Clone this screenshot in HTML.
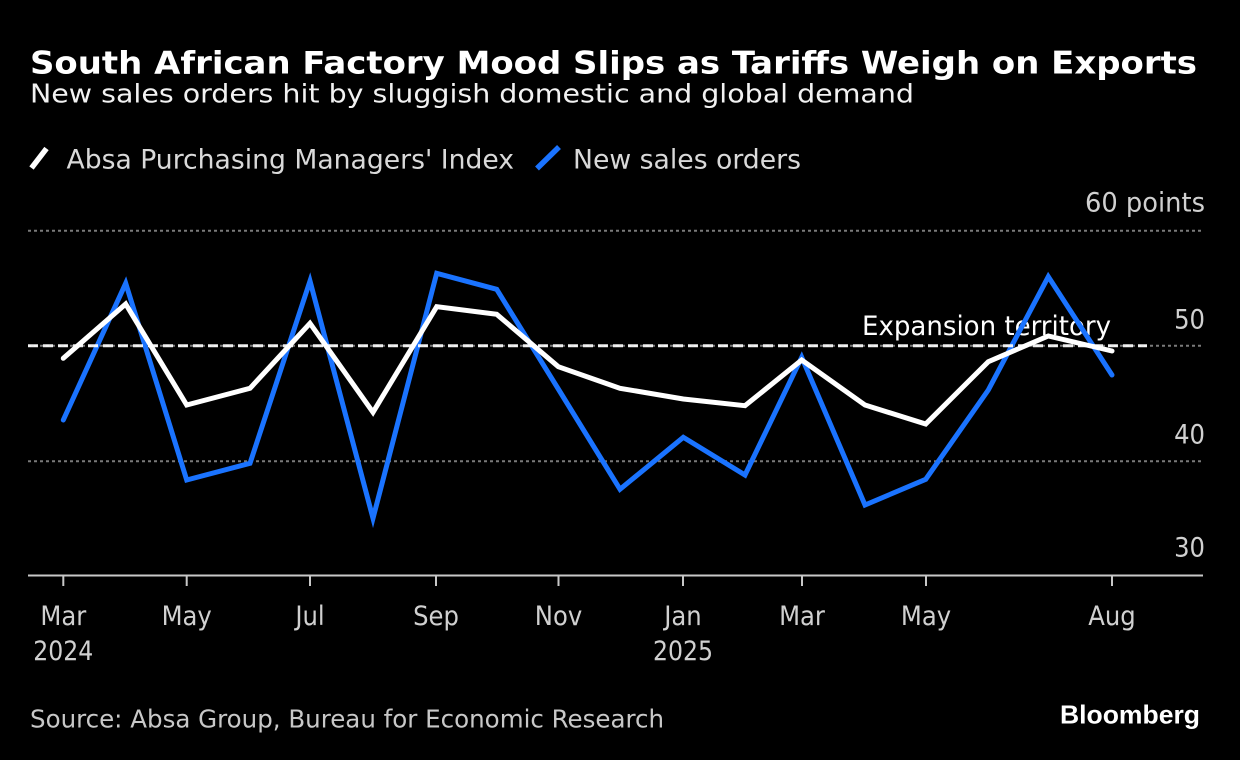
<!DOCTYPE html>
<html>
<head>
<meta charset="utf-8">
<style>
  html, body { margin: 0; padding: 0; background: #000; }
  body { width: 1240px; height: 760px; overflow: hidden; }
  svg { display: block; }
  text { font-family: "DejaVu Sans", "Liberation Sans", sans-serif; font-stretch: condensed; }
  .logo { font-family: "Liberation Sans", "DejaVu Sans", sans-serif; font-stretch: normal; }
</style>
</head>
<body>
<svg width="1240" height="760" viewBox="0 0 1240 760" xmlns="http://www.w3.org/2000/svg">
  <rect x="0" y="0" width="1240" height="760" fill="#000"/>

  <!-- Title & subtitle -->
  <text x="30" y="73.5" font-size="31" font-weight="bold" fill="#ffffff" textLength="1167" lengthAdjust="spacingAndGlyphs">South African Factory Mood Slips as Tariffs Weigh on Exports</text>
  <text x="30" y="102.3" font-size="26" fill="#f2f2f2" textLength="884" lengthAdjust="spacingAndGlyphs">New sales orders hit by sluggish domestic and global demand</text>

  <!-- Legend -->
  <line x1="31.5" y1="168" x2="46.5" y2="148.5" stroke="#ffffff" stroke-width="5.5" stroke-linecap="butt"/>
  <text x="66.5" y="168.3" font-size="27" fill="#d9d9d9" textLength="447.5" lengthAdjust="spacingAndGlyphs">Absa Purchasing Managers' Index</text>
  <line x1="537" y1="168.5" x2="559" y2="147" stroke="#1a73ff" stroke-width="5.5" stroke-linecap="butt"/>
  <text x="573" y="168.3" font-size="27" fill="#d9d9d9" textLength="228" lengthAdjust="spacingAndGlyphs">New sales orders</text>

  <!-- Gridlines (dotted) -->
  <g stroke="#7a7a7a" stroke-width="2" stroke-dasharray="3 3">
    <line x1="28" y1="230.7" x2="1203" y2="230.7"/>
    <line x1="28" y1="345.7" x2="1203" y2="345.7"/>
    <line x1="28" y1="461.2" x2="1203" y2="461.2"/>
  </g>

  <!-- Y labels -->
  <g font-size="27" fill="#d0d0d0" text-anchor="end">
    <text x="1205" y="211.7" textLength="120" lengthAdjust="spacingAndGlyphs">60 points</text>
    <text x="1205" y="328.3">50</text>
    <text x="1205" y="443.3">40</text>
    <text x="1205" y="556.7">30</text>
  </g>

  <!-- Expansion territory annotation -->
  <text x="862" y="335" font-size="27" fill="#ffffff" textLength="249" lengthAdjust="spacingAndGlyphs">Expansion territory</text>

  <!-- Series: New sales orders (blue) -->
  <polyline fill="none" stroke="#1a73ff" stroke-width="5" stroke-linejoin="miter" stroke-miterlimit="6" stroke-linecap="round"
    points="63.3,420 125.7,283.3 186.7,480 250,463.3 310,281 373,518.3 436.7,273.3 496.7,289.3 558.3,389 620,489.3 683.3,437.3 745,475 801.7,357.3 865,505 925.7,479.3 988.3,390 1048.3,276.7 1112,375"/>

  <!-- Series: PMI (white) -->
  <polyline fill="none" stroke="#ffffff" stroke-width="5" stroke-linejoin="miter" stroke-miterlimit="6" stroke-linecap="round"
    points="63.3,358.3 125.7,304 186.7,405 250,388.3 310,323.3 373,412.3 436.7,306.7 496.7,314.3 558.3,366.7 620,388.3 683.3,399 745,405.7 801.7,360 865,405 925.7,424 988.3,361.7 1048.3,336 1112,351"/>

  <!-- 50 threshold dashed line -->
  <line x1="28" y1="345.7" x2="1147" y2="345.7" stroke="#ffffff" stroke-opacity="0.92" stroke-width="3" stroke-dasharray="10 5"/>

  <!-- X axis -->
  <line x1="28" y1="575.5" x2="1203" y2="575.5" stroke="#c8c8c8" stroke-width="2"/>
  <g stroke="#c8c8c8" stroke-width="2">
    <line x1="63.3" y1="575.5" x2="63.3" y2="586"/>
    <line x1="186.7" y1="575.5" x2="186.7" y2="586"/>
    <line x1="310" y1="575.5" x2="310" y2="586"/>
    <line x1="436" y1="575.5" x2="436" y2="586"/>
    <line x1="558.5" y1="575.5" x2="558.5" y2="586"/>
    <line x1="683" y1="575.5" x2="683" y2="586"/>
    <line x1="802" y1="575.5" x2="802" y2="586"/>
    <line x1="926" y1="575.5" x2="926" y2="586"/>
    <line x1="1112" y1="575.5" x2="1112" y2="586"/>
  </g>

  <!-- X labels -->
  <g font-size="27" fill="#d0d0d0" text-anchor="middle">
    <text x="63.3" y="625">Mar</text>
    <text x="63.3" y="660" textLength="60" lengthAdjust="spacingAndGlyphs">2024</text>
    <text x="186.7" y="625">May</text>
    <text x="310" y="625">Jul</text>
    <text x="436" y="625">Sep</text>
    <text x="558.5" y="625">Nov</text>
    <text x="683" y="625">Jan</text>
    <text x="683" y="660" textLength="60" lengthAdjust="spacingAndGlyphs">2025</text>
    <text x="802" y="625">Mar</text>
    <text x="926" y="625">May</text>
    <text x="1112" y="625">Aug</text>
  </g>

  <!-- Footer -->
  <text x="30" y="727.3" font-size="25" fill="#c8c8c8" textLength="634" lengthAdjust="spacingAndGlyphs">Source: Absa Group, Bureau for Economic Research</text>
  <text class="logo" x="1060" y="723.3" font-size="26" font-weight="bold" fill="#ffffff" textLength="140" lengthAdjust="spacingAndGlyphs">Bloomberg</text>
</svg>
</body>
</html>
